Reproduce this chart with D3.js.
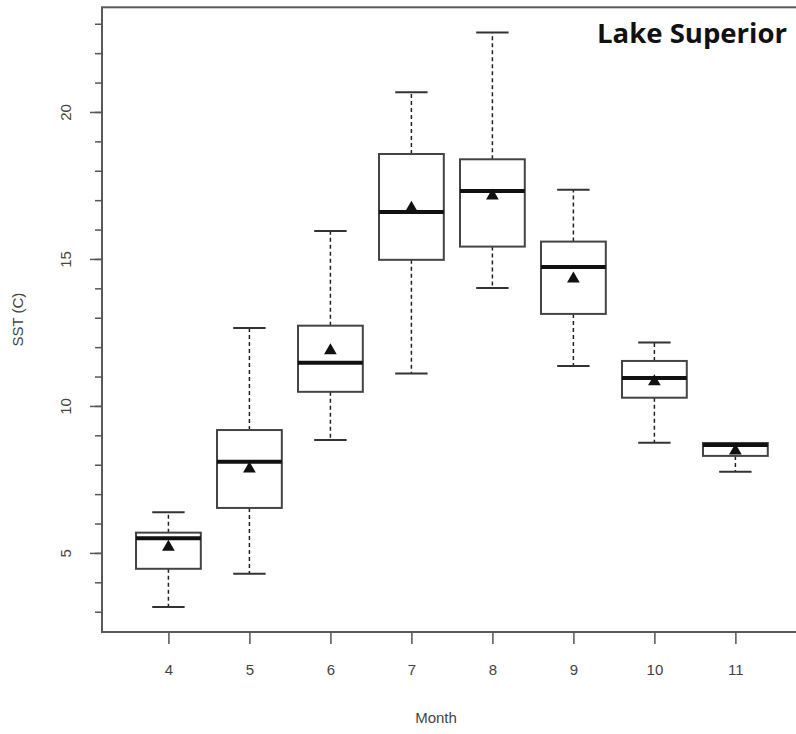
<!DOCTYPE html>
<html>
<head>
<meta charset="utf-8">
<script src="https://cdn.jsdelivr.net/npm/d3@7"></script>
<style>
  body { margin: 0; background: #fff; }
  svg { display: block; }
</style>
</head>
<body>
<svg id="chart" width="796" height="734"></svg>
<script>
const WIDTH = 796;
const HEIGHT = 734;

// monthly SST summaries
const months = [4, 5, 6, 7, 8, 9, 10, 11];
const whiskerLow = [3.16, 4.29, 8.84, 11.1, 14.01, 11.36, 8.75, 7.76];
const q1 = [4.46, 6.53, 10.48, 14.97, 15.42, 13.13, 10.28, 8.3];
const median = [5.5, 8.1, 11.47, 16.6, 17.31, 14.73, 10.95, 8.67];
const q3 = [5.69, 9.18, 12.73, 18.57, 18.39, 15.59, 11.53, 8.74];
const whiskerHigh = [6.38, 12.65, 15.95, 20.67, 22.7, 17.35, 12.16, 8.74];
const means = [5.2, 7.86, 11.88, 16.73, 17.15, 14.32, 10.83, 8.47];

const yMajor = [5, 10, 15, 20];
const yMinor = d3.range(3, 24);

const data = months.map((m, i) => ({
  month: m,
  pos: i + 1,
  lo: whiskerLow[i],
  q1: q1[i],
  med: median[i],
  q3: q3[i],
  hi: whiskerHigh[i],
  mean: means[i]
}));

const svg = d3.select("#chart");

const x = d3.scaleLinear().domain([0.18, 8.82]).range([102, 801.8]);
const y = d3.scaleLinear().domain([2.31, 23.56]).range([632, 7.3]);

const boxHalf = 0.4;
const capHalf = 0.2;

// frame
svg.append("rect")
  .attr("x", x.range()[0])
  .attr("y", y.range()[1])
  .attr("width", x.range()[1] - x.range()[0])
  .attr("height", y.range()[0] - y.range()[1])
  .attr("fill", "none")
  .attr("stroke", "#5a5a5a")
  .attr("stroke-width", 2);

// y axis: minor ticks, then major with labels
svg.append("g")
  .attr("transform", `translate(${x.range()[0]},0)`)
  .call(d3.axisLeft(y).tickValues(yMinor).tickSize(7).tickFormat(""))
  .call(g => g.select(".domain").remove())
  .call(g => g.selectAll("line").attr("stroke", "#555").attr("stroke-width", 1.5));

svg.append("g")
  .attr("transform", `translate(${x.range()[0]},0)`)
  .call(d3.axisLeft(y).tickValues(yMajor).tickSize(12).tickPadding(0).tickFormat(d3.format("d")))
  .call(g => g.select(".domain").remove())
  .call(g => g.selectAll("line").attr("stroke", "#555").attr("stroke-width", 1.5))
  .call(g => g.selectAll("text")
    .attr("x", null).attr("dy", null)
    .attr("transform", "translate(-37,0) rotate(-90)")
    .attr("text-anchor", "middle")
    .attr("dominant-baseline", "central")
    .attr("fill", "#444")
    .attr("font-family", "Liberation Sans, Arial, sans-serif")
    .attr("font-size", 15));

// x axis
svg.append("g")
  .attr("transform", `translate(0,${y.range()[0]})`)
  .call(d3.axisBottom(x).tickValues(data.map(d => d.pos)).tickSize(12).tickPadding(20)
    .tickFormat((d, i) => months[i]))
  .call(g => g.select(".domain").remove())
  .call(g => g.selectAll("line").attr("stroke", "#555").attr("stroke-width", 1.5))
  .call(g => g.selectAll("text")
    .attr("fill", "#444")
    .attr("font-family", "Liberation Sans, Arial, sans-serif")
    .attr("font-size", 15));

// axis titles
svg.append("text")
  .attr("x", (x.range()[0] + 800) / 2 - 15)
  .attr("y", 723)
  .attr("text-anchor", "middle")
  .attr("fill", "#444")
  .attr("font-family", "Liberation Sans, Arial, sans-serif")
  .attr("font-size", 15)
  .text("Month");

svg.append("text")
  .attr("transform", `translate(23,${(y.range()[0] + y.range()[1]) / 2}) rotate(-90)`)
  .attr("text-anchor", "middle")
  .attr("fill", "#444")
  .attr("font-family", "Liberation Sans, Arial, sans-serif")
  .attr("font-size", 15)
  .text("SST (C)");

// boxes
const boxes = svg.append("g").selectAll("g")
  .data(data)
  .join("g");

// dashed whiskers
boxes.append("line")
  .attr("x1", d => x(d.pos)).attr("x2", d => x(d.pos))
  .attr("y1", d => y(d.q3)).attr("y2", d => y(d.hi))
  .attr("stroke", "#222").attr("stroke-width", 1.5)
  .attr("stroke-dasharray", "4,3");
boxes.append("line")
  .attr("x1", d => x(d.pos)).attr("x2", d => x(d.pos))
  .attr("y1", d => y(d.q1)).attr("y2", d => y(d.lo))
  .attr("stroke", "#222").attr("stroke-width", 1.5)
  .attr("stroke-dasharray", "4,3");

// caps
["hi", "lo"].forEach(k => {
  boxes.append("line")
    .attr("x1", d => x(d.pos - capHalf)).attr("x2", d => x(d.pos + capHalf))
    .attr("y1", d => y(d[k])).attr("y2", d => y(d[k]))
    .attr("stroke", "#333").attr("stroke-width", 2);
});

boxes.append("rect")
  .attr("x", d => x(d.pos - boxHalf))
  .attr("y", d => y(d.q3))
  .attr("width", d => x(d.pos + boxHalf) - x(d.pos - boxHalf))
  .attr("height", d => y(d.q1) - y(d.q3))
  .attr("fill", "#fff")
  .attr("stroke", "#444")
  .attr("stroke-width", 2);

boxes.append("line")
  .attr("x1", d => x(d.pos - boxHalf)).attr("x2", d => x(d.pos + boxHalf))
  .attr("y1", d => y(d.med)).attr("y2", d => y(d.med))
  .attr("stroke", "#111").attr("stroke-width", 4);

// mean markers
boxes.append("path")
  .attr("d", d3.symbol(d3.symbolTriangle, 70))
  .attr("transform", d => `translate(${x(d.pos)},${y(d.mean)})`)
  .attr("fill", "#111");

// panel title
svg.append("text")
  .attr("x", 787)
  .attr("y", 43)
  .attr("text-anchor", "end")
  .attr("fill", "#111")
  .attr("font-family", "Open Sans, sans-serif")
  .attr("font-weight", "bold")
  .attr("font-size", 26)
  .attr("textLength", 190)
  .attr("lengthAdjust", "spacingAndGlyphs")
  .text("Lake Superior");
</script>
</body>
</html>
